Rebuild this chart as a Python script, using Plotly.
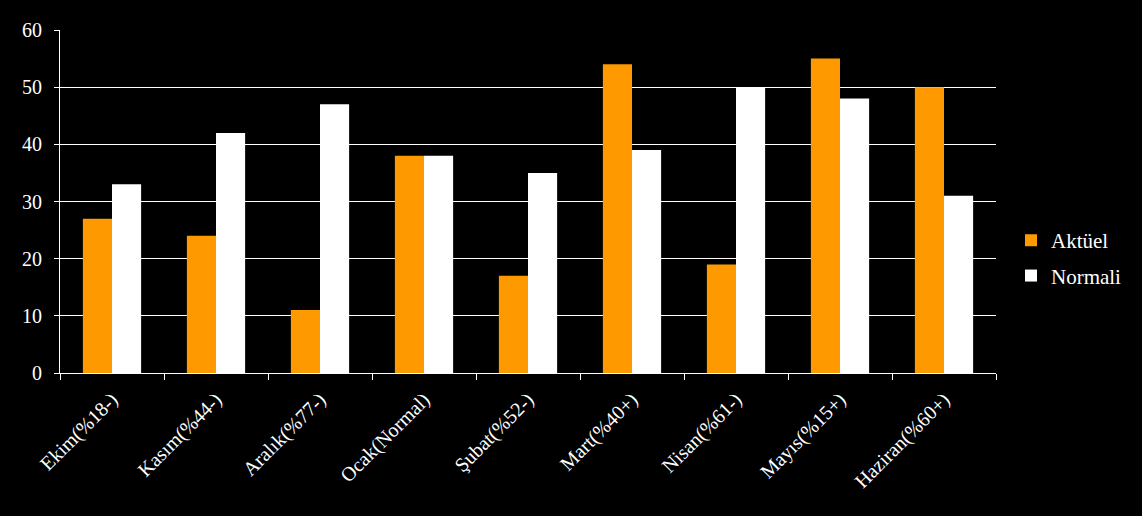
import plotly.graph_objects as go

categories = ["Ekim(%18-)", "Kasım(%44-)", "Aralık(%77-)", "Ocak(Normal)", "Şubat(%52-)",
              "Mart(%40+)", "Nisan(%61-)", "Mayıs(%15+)", "Haziran(%60+)"]
aktuel = [27, 24, 11, 38, 17, 54, 19, 55, 50]
normali = [33, 42, 47, 38, 35, 39, 50, 48, 31]

font = "Liberation Serif, Times New Roman, serif"

fig = go.Figure()
fig.add_trace(go.Bar(x=categories, y=aktuel, name="Aktüel", marker_color="#FF9900",
                     marker_line_width=0, legendgroup="a"))
fig.add_trace(go.Bar(x=categories, y=normali, name="Normali", marker_color="#FFFFFF",
                     marker_line_width=0, legendgroup="b"))

fig.update_layout(
    width=1142, height=516,
    paper_bgcolor="black", plot_bgcolor="black",
    margin=dict(l=60, r=146, t=30, b=143),
    barmode="group", bargap=0.44, bargroupgap=0,
    font=dict(family=font, color="white", size=18),
    legend=dict(x=1.016, y=0.335, xanchor="left", yanchor="middle",
                font=dict(family=font, size=21, color="white"),
                itemwidth=30, tracegroupgap=5),
    showlegend=True,
)
fig.update_xaxes(
    type="category", tickangle=-45, tickson="boundaries",
    ticks="outside", ticklen=6, tickcolor="white",
    showline=True, linecolor="white", linewidth=1,
    showgrid=False, tickfont=dict(family=font, size=20, color="white"),
    ticklabelstandoff=6,
)
fig.update_yaxes(
    range=[0, 60], dtick=10, ticks="outside", ticklen=5, tickcolor="white",
    showline=True, linecolor="white", linewidth=1,
    showgrid=True, gridcolor="white", gridwidth=1, zeroline=False,
    tickfont=dict(family=font, size=20, color="white"),
    ticklabelstandoff=8,
)

fig.write_html("out.html")
